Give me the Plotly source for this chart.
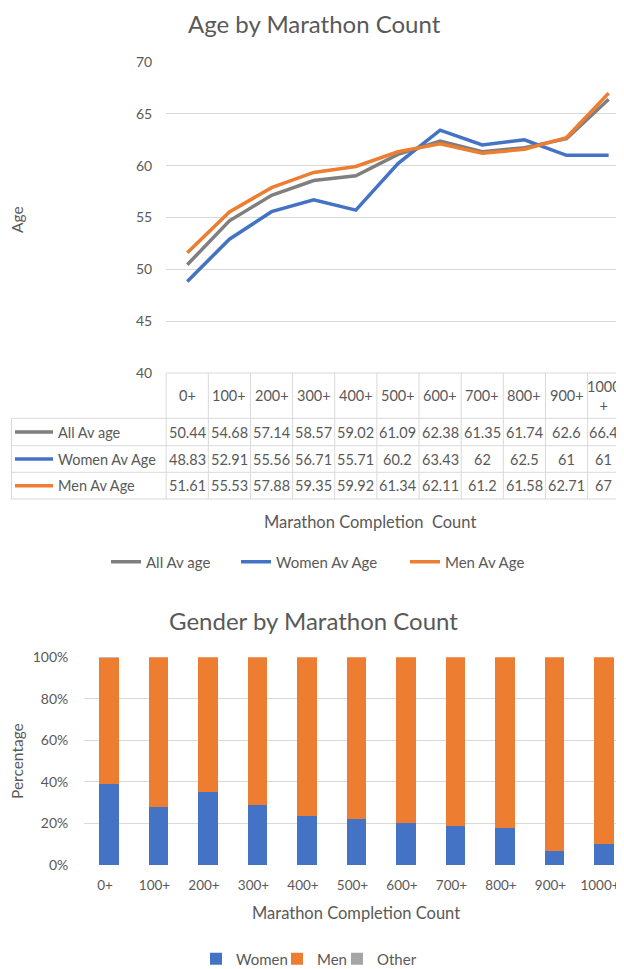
import plotly.graph_objects as go

# The page body has an 8px margin, so the figure sits at (8, 8) in the 624x969 window.
SCREEN_W, SCREEN_H = 624, 969
OFF = 8
FW, FH = SCREEN_W - OFF, SCREEN_H - OFF
FONT = "Lato"
TXT = "#595959"
GRID = "#D9D9D9"

# ---------------- data ----------------
categories = ["0+", "100+", "200+", "300+", "400+", "500+", "600+", "700+", "800+", "900+", "1000+"]

all_av_age = [50.44, 54.68, 57.14, 58.57, 59.02, 61.09, 62.38, 61.35, 61.74, 62.6, 66.4]
women_av_age = [48.83, 52.91, 55.56, 56.71, 55.71, 60.2, 63.43, 62, 62.5, 61, 61]
men_av_age = [51.61, 55.53, 57.88, 59.35, 59.92, 61.34, 62.11, 61.2, 61.58, 62.71, 67]

women_pct = [39.1, 27.7, 35.0, 29.0, 23.6, 22.2, 20.1, 18.9, 17.6, 6.8, 10.2]
men_pct = [60.5, 72.3, 65.0, 71.0, 76.4, 77.8, 79.9, 81.1, 82.4, 93.2, 89.8]
other_pct = [0.4, 0, 0, 0, 0, 0, 0, 0, 0, 0, 0]

age_series = [
    ("All Av age", all_av_age, "#7F7F7F"),
    ("Women Av Age", women_av_age, "#4472C4"),
    ("Men Av Age", men_av_age, "#ED7D31"),
]
gender_series = [
    ("Women", women_pct, "#4472C4"),
    ("Men", men_pct, "#ED7D31"),
    ("Other", other_pct, "#A5A5A5"),
]

# legend entry anchors (screen px): left edge of each entry, row centre
age_legend_x = [106, 236, 405]
age_legend_y = 562
gender_legend_x = [196, 277, 337]
gender_legend_y = 959


def px(x):
    return (x - OFF) / FW


def py(y):
    return 1 - (y - OFF) / FH


fig = go.Figure()
legends = {}
leg_font = dict(family=FONT, size=15, color=TXT)

# ---------------- top: line chart ----------------
for k, (name, vals, col) in enumerate(age_series):
    lname = "legend" if k == 0 else f"legend{k + 1}"
    fig.add_trace(go.Scatter(
        x=categories, y=vals, name=name, mode="lines",
        line=dict(color=col, width=3.5), xaxis="x", yaxis="y", legend=lname,
    ))
    legends[lname] = dict(orientation="h", x=px(age_legend_x[k]), xanchor="left",
                          y=py(age_legend_y), yanchor="middle", font=leg_font,
                          bgcolor="rgba(0,0,0,0)", itemwidth=30)

# ---------------- bottom: stacked bars ----------------
for k, (name, vals, col) in enumerate(gender_series):
    lname = f"legend{k + 4}"
    fig.add_trace(go.Bar(
        x=categories, y=vals, name=name, marker=dict(color=col, line=dict(width=0)),
        xaxis="x2", yaxis="y2", legend=lname,
    ))
    legends[lname] = dict(orientation="h", x=px(gender_legend_x[k]), xanchor="left",
                          y=py(gender_legend_y), yanchor="middle", font=leg_font,
                          bgcolor="rgba(0,0,0,0)", itemwidth=30)

# geometry (screen pixels)
top_x0, top_step = 166.2, 42.14
bot_x0, bot_step = 84.25, 49.5
n = len(categories)

top_plot_top, top_plot_bot = 62, 373
bot_plot_top, bot_plot_bot = 657.3, 865

table_rows = [373, 418.3, 445.7, 472.3, 499]

axis_font = dict(family=FONT, size=14, color=TXT)

fig.update_layout(
    width=FW, height=FH, autosize=False,
    margin=dict(l=0, r=0, t=0, b=0, pad=0, autoexpand=False),
    paper_bgcolor="white", plot_bgcolor="white",
    font=dict(family=FONT, color=TXT),
    barmode="stack", bargap=0.6,
    showlegend=True,
    xaxis=dict(
        domain=[px(top_x0), 1], type="category", categoryorder="array", categoryarray=categories,
        range=[-0.5, -0.5 + (SCREEN_W - top_x0) / top_step],
        showticklabels=False, showgrid=False, zeroline=False, showline=False, ticks="",
        anchor="y", automargin=False,
    ),
    yaxis=dict(
        domain=[py(top_plot_bot), py(top_plot_top)], range=[40, 70], dtick=5,
        showgrid=True, gridcolor=GRID, gridwidth=1, zeroline=False, showline=False,
        tickfont=axis_font, ticklabelstandoff=13, anchor="x", automargin=False,
    ),
    xaxis2=dict(
        domain=[px(bot_x0), 1], type="category", categoryorder="array", categoryarray=categories,
        range=[-0.5, -0.5 + (SCREEN_W - bot_x0) / bot_step],
        showgrid=False, zeroline=False, showline=False, ticks="",
        tickfont=dict(family=FONT, size=13.5, color=TXT), ticklabelstandoff=10, ticklabelshift=-4,
        anchor="y2", automargin=False,
    ),
    yaxis2=dict(
        domain=[py(bot_plot_bot), py(bot_plot_top)], range=[0, 100], dtick=20, ticksuffix="%",
        showgrid=True, gridcolor=GRID, gridwidth=1, zeroline=False, showline=False,
        tickfont=axis_font, ticklabelstandoff=15, anchor="x2", automargin=False,
    ),
    **legends,
)

annotations = []
shapes = []

# titles
annotations.append(dict(text="Age by Marathon Count", x=px(314), y=py(23), xref="paper", yref="paper",
                        showarrow=False, xanchor="center", yanchor="middle",
                        font=dict(family=FONT, size=24, color=TXT)))
annotations.append(dict(text="Gender by Marathon Count", x=px(313), y=py(620), xref="paper", yref="paper",
                        showarrow=False, xanchor="center", yanchor="middle",
                        font=dict(family=FONT, size=24, color=TXT)))
# axis titles
annotations.append(dict(text="Age", x=px(17), y=py(220), xref="paper", yref="paper", textangle=-90,
                        showarrow=False, xanchor="center", yanchor="middle",
                        font=dict(family=FONT, size=15.5, color=TXT)))
annotations.append(dict(text="Percentage", x=px(17), y=py(761), xref="paper", yref="paper", textangle=-90,
                        showarrow=False, xanchor="center", yanchor="middle",
                        font=dict(family=FONT, size=15.5, color=TXT)))
annotations.append(dict(text="Marathon Completion\u00a0 Count", x=px(370), y=py(522), xref="paper", yref="paper",
                        showarrow=False, xanchor="center", yanchor="middle",
                        font=dict(family=FONT, size=16.5, color=TXT)))
annotations.append(dict(text="Marathon Completion Count", x=px(356), y=py(913), xref="paper", yref="paper",
                        showarrow=False, xanchor="center", yanchor="middle",
                        font=dict(family=FONT, size=16.5, color=TXT)))

# ---------------- data table under the line chart ----------------
cell_font = dict(family=FONT, size=14.5, color=TXT)
header_mid = (table_rows[0] + table_rows[1]) / 2
# the last column is cropped by the window edge: keep its text inside the visible part
col_shift = [0] * (n - 1) + [-5]
for i, c in enumerate(categories):
    lbl = c if len(c) <= 4 else c[:-1] + "<br>" + c[-1]
    annotations.append(dict(text=lbl, x=i, y=py(header_mid), xref="x", yref="paper", xshift=col_shift[i],
                            showarrow=False, xanchor="center", yanchor="middle", font=cell_font))

for r, (name, vals, col) in enumerate(age_series):
    y0, y1 = table_rows[r + 1], table_rows[r + 2]
    ym = (y0 + y1) / 2
    shapes.append(dict(type="line", xref="paper", yref="paper", x0=px(15), x1=px(53),
                       y0=py(ym), y1=py(ym), line=dict(color=col, width=3.5)))
    annotations.append(dict(text=name, x=px(56), y=py(ym), xref="paper", yref="paper",
                            showarrow=False, xanchor="left", yanchor="middle", font=cell_font))
    for i, v in enumerate(vals):
        annotations.append(dict(text=f"{v:g}", x=i, y=py(ym), xref="x", yref="paper", xshift=col_shift[i],
                                showarrow=False, xanchor="center", yanchor="middle", font=cell_font))

# table grid lines
border = dict(color=GRID, width=1)
shapes.append(dict(type="line", xref="paper", yref="paper", x0=px(top_x0), x1=1,
                   y0=py(table_rows[0]), y1=py(table_rows[0]), line=border))
for yb in table_rows[1:]:
    shapes.append(dict(type="line", xref="paper", yref="paper", x0=px(11.5), x1=1,
                       y0=py(yb), y1=py(yb), line=border))
shapes.append(dict(type="line", xref="paper", yref="paper", x0=px(11.5), x1=px(11.5),
                   y0=py(table_rows[1]), y1=py(table_rows[-1]), line=border))
shapes.append(dict(type="line", xref="paper", yref="paper", x0=px(top_x0), x1=px(top_x0),
                   y0=py(table_rows[0]), y1=py(table_rows[-1]), line=border))
for i in range(1, n):
    shapes.append(dict(type="line", xref="x", yref="paper", x0=i - 0.5, x1=i - 0.5,
                       y0=py(table_rows[0]), y1=py(table_rows[-1]), line=border))

fig.update_layout(annotations=annotations, shapes=shapes)

fig.write_html("out.html")
